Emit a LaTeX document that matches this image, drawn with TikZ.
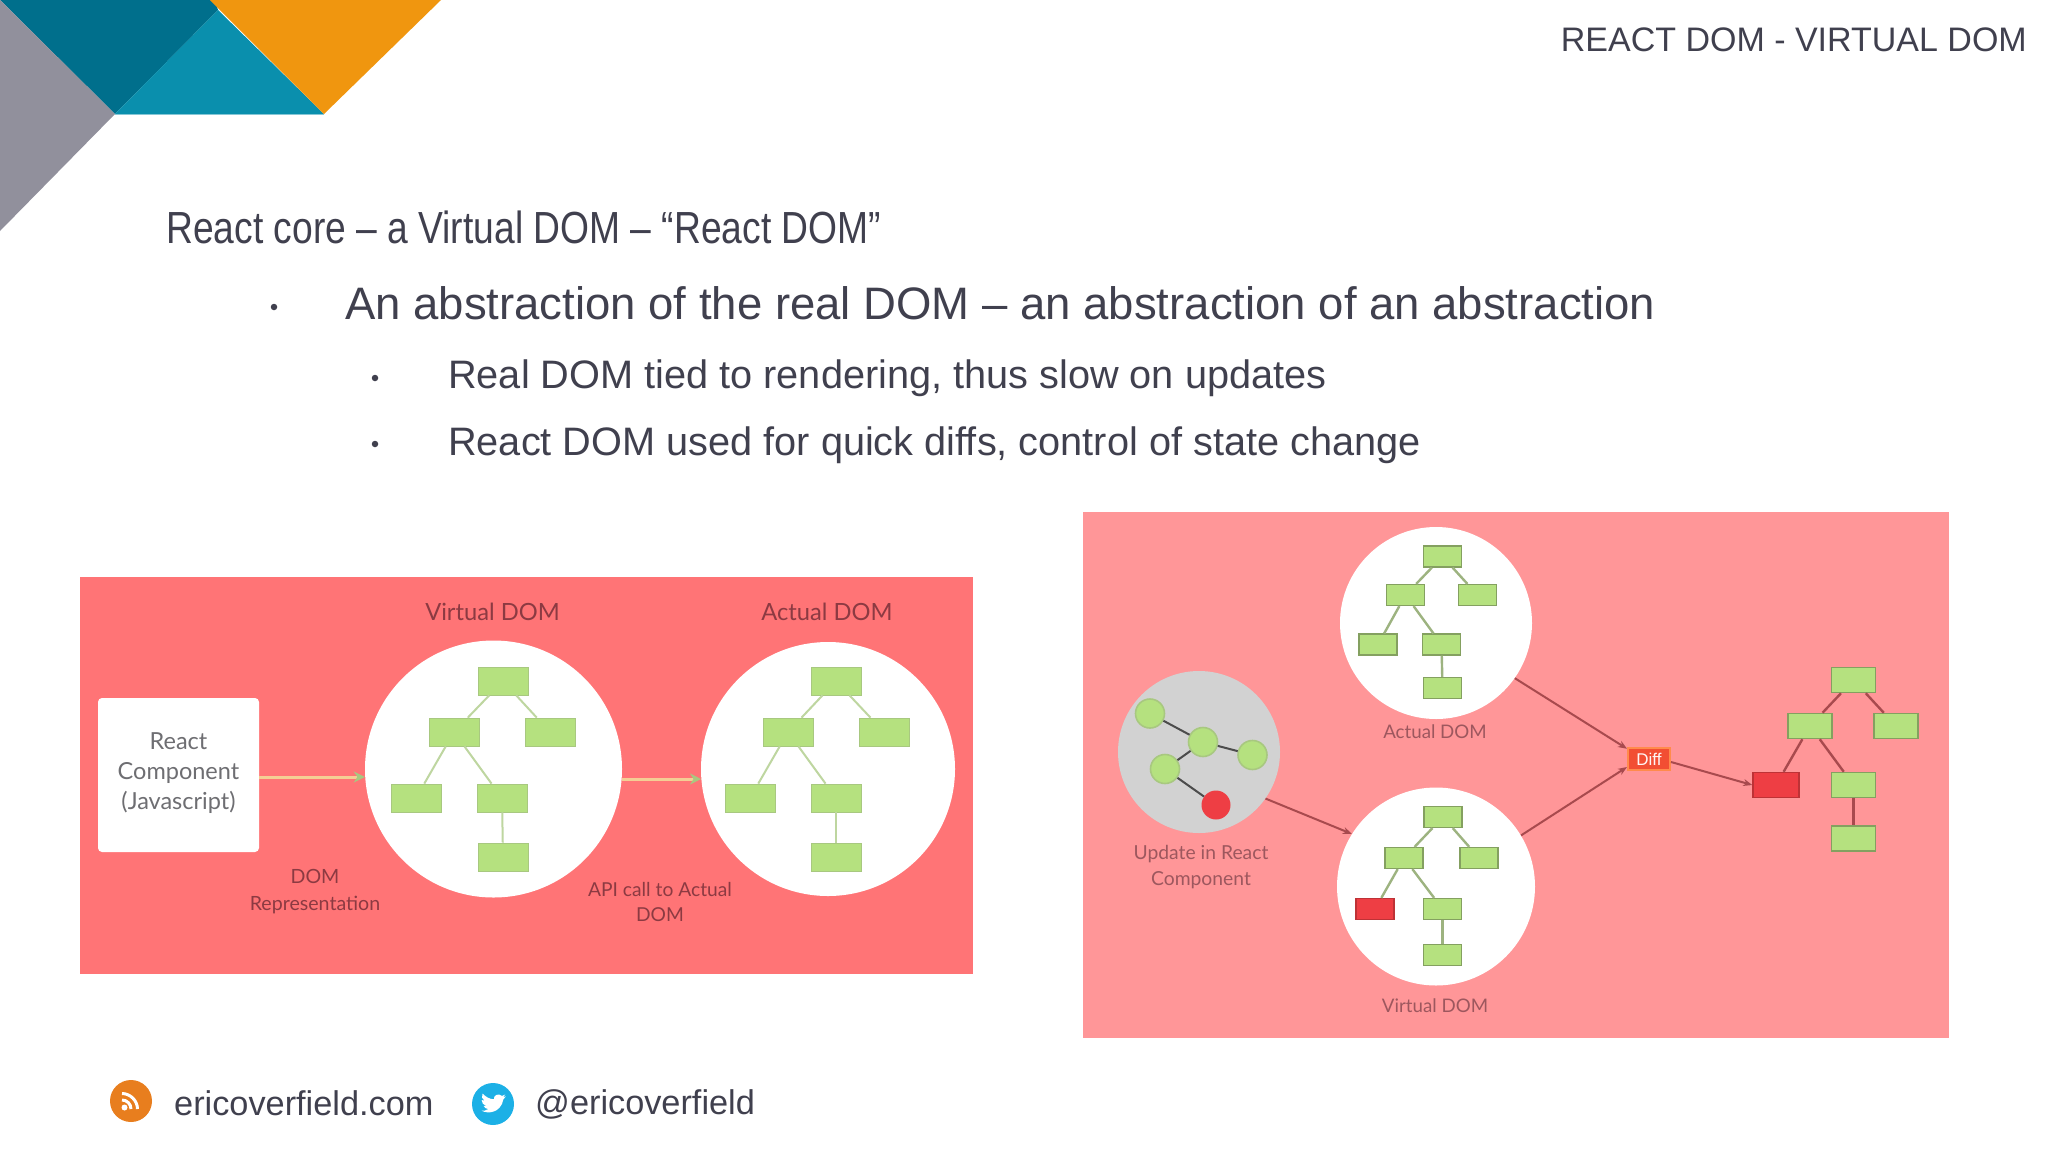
\documentclass[tikz,border=0pt]{standalone}
\usepackage{fontspec}
\setmainfont{Liberation Sans}
\newfontfamily\narrowf[FakeStretch=0.827]{Liberation Sans}
\newfontfamily\labelf{Lato}
\usetikzlibrary{arrows.meta}
\definecolor{ink}{HTML}{40404E}
\definecolor{greyt}{HTML}{91909C}
\definecolor{teald}{HTML}{006F8C}
\definecolor{teall}{HTML}{0A8FAD}
\definecolor{orangeb}{HTML}{F0960F}
\definecolor{panelA}{HTML}{FF7476}
\definecolor{panelB}{HTML}{FF9698}
\definecolor{leaf}{HTML}{B5E17F}
\definecolor{leafedge}{HTML}{A8C880}
\definecolor{leafedgeB}{HTML}{84A060}
\definecolor{redbox}{HTML}{EE3E44}
\definecolor{darkred}{HTML}{A84A4E}
\definecolor{labelred}{HTML}{8C3A42}
\definecolor{labelgrey}{HTML}{6E6E72}
\definecolor{peach}{HTML}{F4CE94}
\definecolor{rssorange}{HTML}{E87E1E}
\definecolor{twblue}{HTML}{1CB0E6}
\tikzset{
  slide text/.style={anchor=west,inner sep=0pt,text=ink},
  bulletdot/.style={circle,fill=ink,inner sep=0pt,minimum size=6.5pt},
  bubble/.style={circle,fill=white,inner sep=0pt},
  leafA/.style={rectangle,fill=leaf,draw=leafedge,line width=.8pt,inner sep=0pt,minimum width=50pt,minimum height=28pt},
  leafB/.style={rectangle,fill=leaf,draw=leafedgeB,line width=1.2pt,inner sep=0pt,minimum width=38pt,minimum height=21pt},
  leafC/.style={rectangle,fill=leaf,draw=leafedgeB,line width=1.5pt,inner sep=0pt,minimum width=44pt,minimum height=25pt},
  edgeA/.style={draw=leafedge!75!white,line width=2pt},
  edgeB/.style={draw=leafedgeB!80!white,line width=2.4pt},
  edgeC/.style={draw=darkred,line width=2.4pt},
  flowA/.style={draw=peach,line width=3pt,-{Stealth[length=11pt,width=11pt,color=leafedge]}},
  flowB/.style={draw=darkred,line width=2pt,-{Stealth[length=9pt,width=7pt]}},
  captionA/.style={align=center,inner sep=0pt,text=labelred,font=\labelf\fontsize{23.7}{27}\selectfont},
  captionB/.style={align=center,inner sep=0pt,text=labelred!85!white,font=\labelf\fontsize{18.7}{25}\selectfont},
  dot/.style={circle,fill=leaf,draw=leafedge,line width=1.6pt,inner sep=0pt,minimum size=29pt},
  dotline/.style={draw=gray!60!black,line width=2pt},
}
\begin{document}
\begin{tikzpicture}[x=1pt,y=-1pt]
\useasboundingbox (0,0) rectangle (2048,1152);
% corner decoration
\fill[teald] (0,0) -- (215,0) -- (218,10) -- (115,114) -- cycle;
\fill[teall] (218,10) -- (115,114) -- (324,114) -- cycle;
\fill[greyt] (0,0) -- (115,114) -- (0,231) -- cycle;
\fill[orangeb] (210,0) -- (441,0) -- (324,114) -- cycle;
\draw[teall!50!white,line width=1pt] (115,114.5) -- (324,114.5);
% header and text
\node[anchor=east,inner sep=0pt,text=ink,font=\fontsize{34}{40}\selectfont] (title) at (2027,40) {REACT DOM - VIRTUAL DOM};
\node[slide text,font=\narrowf\fontsize{45}{50}\selectfont] (head) at (166,227) {React core – a Virtual DOM – “React DOM”};
\node[bulletdot] (b1) at (274,307) {};
\node[slide text,font=\fontsize{45.5}{50}\selectfont] (l1) at (345,303) {An abstraction of the real DOM – an abstraction of an abstraction};
\node[bulletdot] (b2) at (375,378) {};
\node[slide text,font=\fontsize{39.7}{46}\selectfont] (l2) at (448,378) {Real DOM tied to rendering, thus slow on updates};
\node[bulletdot] (b3) at (375,444) {};
\node[slide text,font=\fontsize{39.7}{46}\selectfont] (l3) at (448,445) {React DOM used for quick diffs, control of state change};
% footer
\node[circle,fill=rssorange,inner sep=0pt,minimum size=42pt] (rss) at (131,1101) {};
\begin{scope}[shift={(131,1101)}]
  \fill[white] (-6.5,6.5) circle (3);
  \draw[white,line width=3pt] (-9,-1) .. controls (-4,-1) and (0,3) .. (0,8);
  \draw[white,line width=3pt] (-9,-7.5) .. controls (-0.7,-7.5) and (6.5,-0.3) .. (6.5,8);
\end{scope}
\node[slide text,font=\fontsize{34.3}{40}\selectfont] (site) at (174,1103) {ericoverfield.com};
\node[circle,fill=twblue,inner sep=0pt,minimum size=42pt] (tw) at (493,1104) {};
\begin{scope}[shift={(493,1104)},scale=.95]
  \fill[white] (-12,7) .. controls (-6,10.5) and (8,10) .. (11,-5) -- (13.5,-8) -- (10.5,-7.2) -- (13,-10) -- (9.5,-8.5) .. controls (6,-12) and (0,-9) .. (1,-5) .. controls (-4,-5) and (-8,-8) .. (-11,-11) .. controls (-12.5,-8) and (-11.5,-5) .. (-9,-3.5) -- (-12,-4.2) .. controls (-12,-1) and (-10,1) .. (-7,2) -- (-10,2) .. controls (-9,4) and (-7,5) .. (-5,5.3) .. controls (-7,6.8) and (-9.5,7.3) .. (-12,7) -- cycle;
\end{scope}
\node[slide text,font=\fontsize{34.3}{40}\selectfont] (handle) at (535,1104) {@ericoverfield};
% left panel
\fill[panelA] (80,576.5) rectangle (972.5,974);
\node[rectangle,rounded corners=4pt,fill=white,inner sep=0pt,minimum width=161pt,minimum height=154pt] (comp) at (178.5,775) {};
\node[align=center,inner sep=0pt,text=labelgrey,font=\labelf\fontsize{23.5}{30}\selectfont] (compt) at (178.5,773) {React\\Component\\(Javascript)};
\node[bubble,minimum size=257pt] (vd) at (493.5,769) {};
\node[bubble,minimum size=254pt] (ad) at (828,769) {};
\node[captionA] (vdt) at (492.5,612) {Virtual DOM};
\node[captionA] (adt) at (827,612) {Actual DOM};
\node[captionA,font=\labelf\fontsize{19.6}{27}\selectfont] (domr) at (315,892) {DOM\\Representation};
\node[captionA,font=\labelf\fontsize{19.2}{25}\selectfont] (api) at (660,902) {API call to Actual\\DOM};
\draw[flowA] (comp.east |- 0,777) -- (vd.west |- 0,777);
\draw[flowA] (622,779) coordinate (fa) -- (701,779) coordinate (fb);
% left trees
\node[leafA] (a1) at (503,681) {};
\node[leafA] (a2) at (454,732) {};
\node[leafA] (a3) at (550,732) {};
\node[leafA] (a4) at (416,798) {};
\node[leafA] (a5) at (502,798) {};
\node[leafA] (a6) at (503,857) {};
\draw[edgeA] (a1) -- (a2); \draw[edgeA] (a1) -- (a3); \draw[edgeA] (a2) -- (a4); \draw[edgeA] (a2) -- (a5); \draw[edgeA] (a5) -- (a6);
\node[leafA] (c1) at (836,681) {};
\node[leafA] (c2) at (788,732) {};
\node[leafA] (c3) at (884,732) {};
\node[leafA] (c4) at (750,798) {};
\node[leafA] (c5) at (836,798) {};
\node[leafA] (c6) at (836,857) {};
\draw[edgeA] (c1) -- (c2); \draw[edgeA] (c1) -- (c3); \draw[edgeA] (c2) -- (c4); \draw[edgeA] (c2) -- (c5); \draw[edgeA] (c5) -- (c6);
% right panel
\fill[panelB] (1083,512) rectangle (1949,1038);
\node[bubble,minimum size=192pt] (rad) at (1436,623) {};
\node[bubble,minimum size=198pt] (rvd) at (1436,886.5) {};
\node[circle,fill=gray!35!white,inner sep=0pt,minimum size=162pt] (upd) at (1199,752) {};
\node[captionB] (radt) at (1435,732) {Actual DOM};
\node[captionB] (rvdt) at (1435,1006) {Virtual DOM};
\node[captionB,font=\labelf\fontsize{19.3}{26}\selectfont] (updt) at (1201,867) {Update in React\\Component};
% update bubble
\node[dot] (d1) at (1150,713.5) {};
\node[dot] (d2) at (1203,742) {};
\node[dot] (d3) at (1252.5,755) {};
\node[dot] (d4) at (1165,769) {};
\node[circle,fill=redbox,inner sep=0pt,minimum size=29pt] (d5) at (1216,805) {};
\draw[dotline] (d1) -- (d2);
\draw[dotline] (d2) -- (d3);
\draw[dotline] (d2) -- (d4);
\draw[dotline] (d4) -- (d5);
% actual tree
\node[leafB] (e1) at (1442.5,556.5) {};
\node[leafB] (e2) at (1405.5,595) {};
\node[leafB] (e3) at (1477.5,595) {};
\node[leafB] (e4) at (1378,644.5) {};
\node[leafB] (e5) at (1441.5,644.5) {};
\node[leafB] (e6) at (1442.5,688) {};
\draw[edgeB] (e1) -- (e2); \draw[edgeB] (e1) -- (e3); \draw[edgeB] (e2) -- (e4); \draw[edgeB] (e2) -- (e5); \draw[edgeB] (e5) -- (e6);
% virtual tree
\node[leafB] (f1) at (1443,817) {};
\node[leafB] (f2) at (1404,858) {};
\node[leafB] (f3) at (1479,858) {};
\node[leafB,fill=redbox,draw=redbox!80!black] (f4) at (1375,909) {};
\node[leafB] (f5) at (1442.5,909) {};
\node[leafB] (f6) at (1442.5,955) {};
\draw[edgeB] (f1) -- (f2); \draw[edgeB] (f1) -- (f3); \draw[edgeB] (f2) -- (f4); \draw[edgeB] (f2) -- (f5); \draw[edgeB] (f5) -- (f6);
% result tree
\node[leafC] (g1) at (1853.5,680) {};
\node[leafC] (g2) at (1810,726) {};
\node[leafC] (g3) at (1896,726) {};
\node[leafC,fill=redbox,draw=redbox!80!black,minimum width=46pt] (g4) at (1776,785) {};
\node[leafC] (g5) at (1853.5,785) {};
\node[leafC] (g6) at (1853.5,838.5) {};
\draw[edgeC] (g1) -- (g2); \draw[edgeC] (g1) -- (g3); \draw[edgeC] (g2) -- (g4); \draw[edgeC] (g2) -- (g5); \draw[edgeC] (g5) -- (g6);
% diff
\node[rectangle,fill=redbox!75!orange,draw=orange!50!panelB,line width=2pt,inner sep=0pt,minimum width=42pt,minimum height=22pt,text=white!90!panelB,font=\fontsize{17}{20}\selectfont] (diff) at (1649,759) {Diff};
\draw[flowB] (upd.325) -- (rvd.148);
\draw[flowB] (rad.-35) -- (diff.155);
\draw[flowB] (rvd.31) -- (diff.200);
\draw[flowB] (diff.east |- 0,762) -- (g4.west);
\end{tikzpicture}
\end{document}
